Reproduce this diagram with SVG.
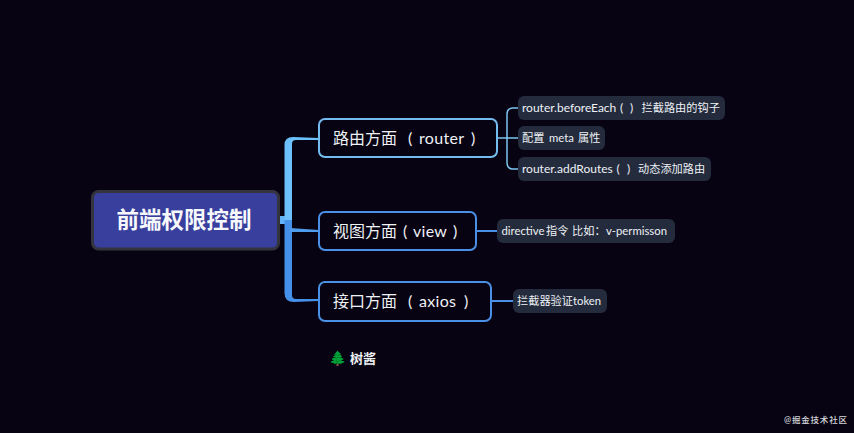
<svg xmlns="http://www.w3.org/2000/svg" width="854" height="433" viewBox="0 0 854 433">
<style>
text{font-family:"Lato","Noto Sans CJK SC",sans-serif;fill:#eef1f5}
.m{font-size:16px}
.ml{letter-spacing:.3px}
.s{font-size:12px}
.t{font-size:11.300px}
.z{font-size:11.200px}
.b{fill:#070312;stroke-width:2}
.l{fill:#232b3d}
.c{fill:none;stroke-linecap:round}
</style>
<rect width="854" height="433" fill="#070312"/>
<g id="connectors">
<rect x="279" y="216" width="12" height="8" fill="#62b4f8"/>
<path d="M284.500 220V145Q284.500 137 293 137L319 138V140L296 140Q292 140 292 144V220Z" fill="#6cc0fb"/>
<path d="M284.500 220V293Q284.500 302 294 302L319 301V299L296 299Q292 299 292 295V220Z" fill="#4590e8"/>
<path d="M290 228L319 230V232L290 232Z" fill="#4f9cec"/>
<path class="c" d="M497 138H507" stroke="#7cc5ee" stroke-width="1.500"/>
<path class="c" d="M518 108H513Q507 108 507 114V162Q507 169 513 169H518M507 138H518" stroke="#7cc5ee" stroke-width="1.500"/>
<path class="c" d="M476 231H497" stroke="#4a90e6" stroke-width="2"/>
<path class="c" d="M492 301H513" stroke="#4a90e6" stroke-width="2"/>
</g>
<g id="root">
<rect x="92.500" y="191.500" width="186" height="57.500" rx="6" fill="#383f9d" stroke="#34343f" stroke-width="3"/>
<text x="184" y="228" font-size="22.500" font-weight="700" text-anchor="middle" style="fill:#f7f8fc">前端权限控制</text>
</g>
<g id="n-router">
<rect class="b" x="319" y="119" width="178" height="38" rx="6" stroke="#74bcf0"/>
<text class="m" x="333" y="144">路由方面<tspan x="408">(</tspan><tspan class="ml" x="419">router</tspan><tspan x="471">)</tspan></text>
</g>
<g id="n-view">
<rect class="b" x="319" y="212" width="157" height="38" rx="6" stroke="#4a90e6"/>
<text class="m" x="333" y="237">视图方面<tspan x="403">(</tspan><tspan class="ml" x="413">view</tspan><tspan x="453">)</tspan></text>
</g>
<g id="n-axios">
<rect class="b" x="319" y="282" width="172" height="39" rx="6" stroke="#4a90e6"/>
<text class="m" x="333" y="307">接口方面<tspan x="408">(</tspan><tspan class="ml" x="419">axios</tspan><tspan x="464">)</tspan></text>
</g>
<g id="l-before">
<rect class="l" x="518" y="96" width="207" height="24" rx="6"/>
<text class="s" x="522" y="112">router.beforeEach<tspan x="620">(</tspan><tspan x="630">)</tspan><tspan class="z" x="641.500">拦截路由的钩子</tspan></text>
</g>
<g id="l-meta">
<rect class="l" x="518" y="126" width="87" height="24" rx="6"/>
<text class="t" x="522" y="142"><tspan class="z">配置</tspan><tspan x="549">meta</tspan><tspan class="z" x="578">属性</tspan></text>
</g>
<g id="l-add">
<rect class="l" x="518" y="157" width="193" height="24" rx="6"/>
<text class="s" x="522" y="173">router.addRoutes<tspan x="616.500">(</tspan><tspan x="627">)</tspan><tspan class="z" x="638">动态添加路由</tspan></text>
</g>
<g id="l-directive">
<rect class="l" x="497" y="219" width="178" height="24" rx="6"/>
<text class="t" x="501.500" y="235">directive<tspan class="z" x="546">指令</tspan><tspan class="z" x="572">比如：</tspan><tspan x="606">v-permisson</tspan></text>
</g>
<g id="l-token">
<rect class="l" x="513" y="289" width="94" height="24" rx="6"/>
<text class="t" x="517" y="305"><tspan class="z">拦截器验证</tspan><tspan x="573">token</tspan></text>
</g>
<g id="signature">
<text x="329" y="363" font-size="14">🌲</text>
<text x="350" y="363" font-size="13" font-weight="700">树酱</text>
</g>
<text x="784" y="423" font-size="8.500" font-weight="500" style="fill:#d5d7dc" letter-spacing="0.800">@掘金技术社区</text>
</svg>
